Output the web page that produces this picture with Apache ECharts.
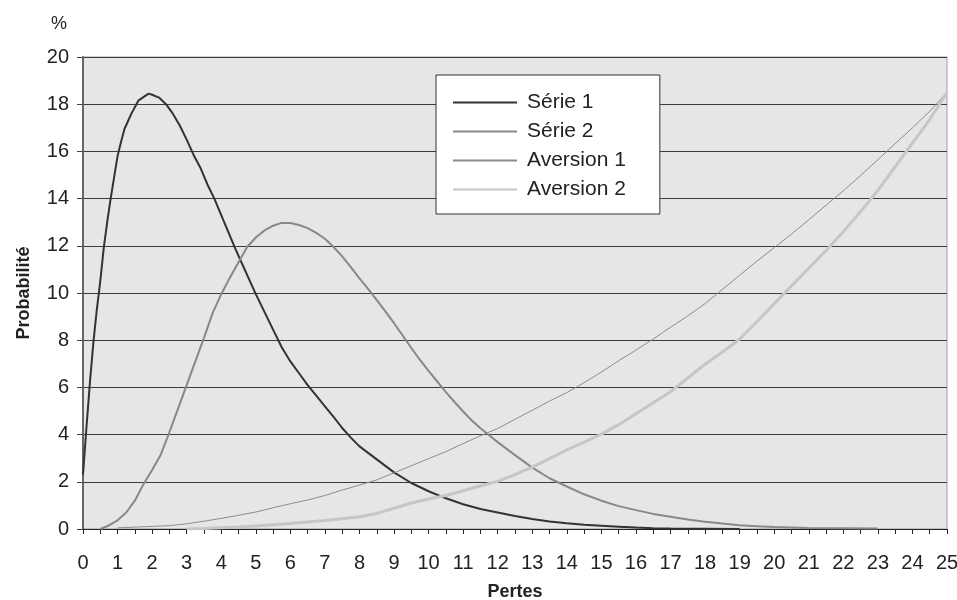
<!DOCTYPE html>
<html>
<head>
<meta charset="utf-8">
<script src="https://cdn.jsdelivr.net/npm/echarts@6/dist/echarts.min.js"></script>
<style>
  html, body { margin: 0; padding: 0; background: #ffffff; }
  #chart { width: 957px; height: 600px; }
</style>
</head>
<body>
<div id="chart"></div>
<script>
// Loss distributions (Pertes) and their risk-aversion weighted counterparts, in %
const serie1X = [0, 0.1, 0.2, 0.3, 0.4, 0.5, 0.6, 0.7, 0.8, 0.9, 1.0, 1.1, 1.2, 1.4, 1.6, 1.8, 1.9, 2.0, 2.2, 2.4, 2.6, 2.8, 3.0, 3.2, 3.4, 3.6, 3.8, 4.0, 4.2, 4.4, 4.6, 4.8, 5.0, 5.25, 5.5, 5.75, 6.0, 6.25, 6.5, 6.75, 7.0, 7.25, 7.5, 7.75, 8.0, 8.5, 9.0, 9.5, 10.0, 10.5, 11.0, 11.5, 12.0, 12.5, 13.0, 13.5, 14.0, 14.5, 15.0, 15.5, 16.0, 16.5, 17.0, 18.0, 19.0];
const serie1Y = [2.3, 4.3, 6.2, 7.9, 9.3, 10.5, 11.9, 13.0, 14.0, 14.9, 15.8, 16.4, 16.95, 17.6, 18.15, 18.35, 18.45, 18.4, 18.28, 18.0, 17.6, 17.1, 16.5, 15.85, 15.3, 14.6, 14.0, 13.3, 12.6, 11.9, 11.25, 10.6, 9.95, 9.2, 8.45, 7.7, 7.1, 6.6, 6.1, 5.65, 5.2, 4.75, 4.28, 3.87, 3.5, 2.95, 2.4, 1.95, 1.6, 1.3, 1.05, 0.85, 0.7, 0.55, 0.42, 0.32, 0.24, 0.18, 0.14, 0.1, 0.06, 0.03, 0.02, 0.01, 0];

const serie2X = [0.5, 0.75, 1.0, 1.25, 1.5, 1.75, 2.0, 2.25, 2.5, 2.75, 3.0, 3.25, 3.5, 3.75, 4.0, 4.25, 4.5, 4.75, 5.0, 5.25, 5.5, 5.75, 6.0, 6.25, 6.5, 6.75, 7.0, 7.25, 7.5, 7.75, 8.0, 8.25, 8.5, 8.75, 9.0, 9.25, 9.5, 9.75, 10.0, 10.25, 10.5, 10.75, 11.0, 11.25, 11.5, 11.75, 12.0, 12.5, 13.0, 13.5, 14.0, 14.5, 15.0, 15.5, 16.0, 16.5, 17.0, 17.5, 18.0, 18.5, 19.0, 19.5, 20.0, 20.5, 21.0, 22.0, 23.0];
const serie2Y = [0, 0.15, 0.37, 0.7, 1.2, 1.9, 2.5, 3.15, 4.1, 5.1, 6.1, 7.1, 8.1, 9.15, 9.95, 10.65, 11.3, 11.95, 12.35, 12.65, 12.85, 12.97, 12.97, 12.88, 12.75, 12.55, 12.3, 11.95, 11.55, 11.1, 10.62, 10.17, 9.7, 9.22, 8.72, 8.2, 7.67, 7.17, 6.7, 6.25, 5.8, 5.38, 4.98, 4.6, 4.27, 3.97, 3.68, 3.13, 2.6, 2.15, 1.8, 1.47, 1.2, 0.97, 0.8, 0.64, 0.52, 0.4, 0.31, 0.23, 0.16, 0.12, 0.08, 0.06, 0.04, 0.03, 0.02];

const aversion1X = [1.0, 1.5, 2.0, 2.5, 3.0, 3.5, 4.0, 4.5, 5.0, 5.5, 6.0, 6.5, 7.0, 7.5, 8.0, 8.5, 9.0, 9.5, 10.0, 10.5, 11.0, 11.5, 12.0, 12.5, 13.0, 13.5, 14.0, 14.5, 15.0, 15.5, 16.0, 16.5, 17.0, 17.5, 18.0, 18.5, 19.0, 19.5, 20.0, 20.5, 21.0, 21.5, 22.0, 22.5, 23.0, 23.5, 24.0, 24.5, 25.0];
const aversion1Y = [0.05, 0.08, 0.11, 0.14, 0.22, 0.33, 0.45, 0.58, 0.72, 0.9, 1.07, 1.23, 1.42, 1.65, 1.86, 2.08, 2.38, 2.68, 2.98, 3.28, 3.62, 3.95, 4.26, 4.65, 5.03, 5.42, 5.78, 6.2, 6.65, 7.13, 7.58, 8.05, 8.55, 9.03, 9.55, 10.15, 10.75, 11.35, 11.92, 12.5, 13.1, 13.72, 14.33, 14.98, 15.65, 16.33, 17.0, 17.7, 18.5];

const aversion2X = [3.0, 3.5, 4.0, 4.5, 5.0, 5.5, 6.0, 6.5, 7.0, 7.5, 8.0, 8.5, 9.0, 9.5, 10.0, 10.5, 11.0, 11.5, 12.0, 12.5, 13.0, 13.5, 14.0, 14.5, 15.0, 15.5, 16.0, 16.5, 17.0, 17.5, 18.0, 18.5, 19.0, 19.5, 20.0, 20.5, 21.0, 21.5, 22.0, 22.5, 23.0, 23.5, 24.0, 24.5, 25.0];
const aversion2Y = [0, 0.02, 0.05, 0.08, 0.13, 0.18, 0.23, 0.3, 0.36, 0.43, 0.52, 0.66, 0.88, 1.1, 1.27, 1.42, 1.62, 1.83, 2.02, 2.3, 2.62, 2.98, 3.35, 3.68, 4.02, 4.42, 4.88, 5.35, 5.82, 6.4, 6.98, 7.5, 8.05, 8.78, 9.55, 10.3, 11.05, 11.8, 12.6, 13.45, 14.35, 15.35, 16.35, 17.35, 18.5];

const seriesNames = ['Série 1', 'Série 2', 'Aversion 1', 'Aversion 2'];
const xAxisName = 'Pertes';
const yAxisName = 'Probabilité';
const unitLabel = '%';

const pairs = (xs, ys) => xs.map((x, i) => [x, ys[i]]);

const styles = [
  { color: '#333333', width: 2 },
  { color: '#888888', width: 2 },
  { color: '#8c8c8c', width: 1 },
  { color: '#c6c6c6', width: 3 }
];
const dataSets = [
  pairs(serie1X, serie1Y),
  pairs(serie2X, serie2Y),
  pairs(aversion1X, aversion1Y),
  pairs(aversion2X, aversion2Y)
];

const FONT = 'Liberation Sans, Arial, sans-serif';

const chart = echarts.init(document.getElementById('chart'), null, { renderer: 'canvas' });
chart.setOption({
  animation: false,
  backgroundColor: '#ffffff',
  textStyle: { fontFamily: FONT },
  grid: {
    left: 83, right: 10, top: 57, bottom: 71,
    containLabel: false,
    outerBoundsMode: 'none',
    show: true,
    backgroundColor: '#e6e6e8',
    borderColor: '#a0a0a0',
    borderWidth: 1
  },
  graphic: [
    {
      type: 'text', left: 51, top: 15, z: 10,
      style: { text: unitLabel, fontFamily: FONT, fontSize: 18, fill: '#222' }
    }
  ],
  legend: {
    orient: 'vertical',
    left: 436, top: 75,
    padding: [17, 34, 14, 16],
    backgroundColor: '#ffffff',
    borderColor: '#333333',
    borderWidth: 1,
    itemWidth: 64,
    itemHeight: 14,
    itemGap: 8,
    itemStyle: { opacity: 0 },
    textStyle: { fontSize: 21, lineHeight: 20, color: '#222', fontFamily: FONT, padding: [0, 0, 0, 5] },
    data: seriesNames
  },
  xAxis: {
    type: 'value',
    min: 0, max: 25, interval: 1,
    name: xAxisName,
    nameLocation: 'middle',
    nameGap: 54,
    nameTextStyle: { fontSize: 18, fontWeight: 'bold', color: '#222', fontFamily: FONT },
    axisLine: { show: true, onZero: false, lineStyle: { color: '#222', width: 1 } },
    axisTick: { show: true, length: 5, lineStyle: { color: '#222' } },
    minorTick: { show: true, splitNumber: 2, length: 5, lineStyle: { color: '#222' } },
    axisLabel: { fontSize: 20, color: '#222', margin: 24, fontFamily: FONT },
    splitLine: { show: false }
  },
  yAxis: {
    type: 'value',
    min: 0, max: 20, interval: 2,
    name: yAxisName,
    nameLocation: 'middle',
    nameGap: 50,
    nameRotate: 90,
    nameTextStyle: { fontSize: 18, fontWeight: 'bold', color: '#222', fontFamily: FONT },
    axisLine: { show: true, lineStyle: { color: '#666', width: 2 } },
    axisTick: { show: true, length: 6, lineStyle: { color: '#444' } },
    axisLabel: { fontSize: 20, color: '#222', margin: 14, fontFamily: FONT },
    splitLine: { show: true, lineStyle: { color: '#3c3c3c', width: 1 } }
  },
  series: seriesNames.map((name, i) => ({
    name: name,
    type: 'line',
    data: dataSets[i],
    symbol: 'none',
    showSymbol: false,
    smooth: false,
    clip: true,
    lineStyle: { color: styles[i].color, width: styles[i].width },
    itemStyle: { color: styles[i].color },
    z: 3 + i
  }))
});
</script>
</body>
</html>
